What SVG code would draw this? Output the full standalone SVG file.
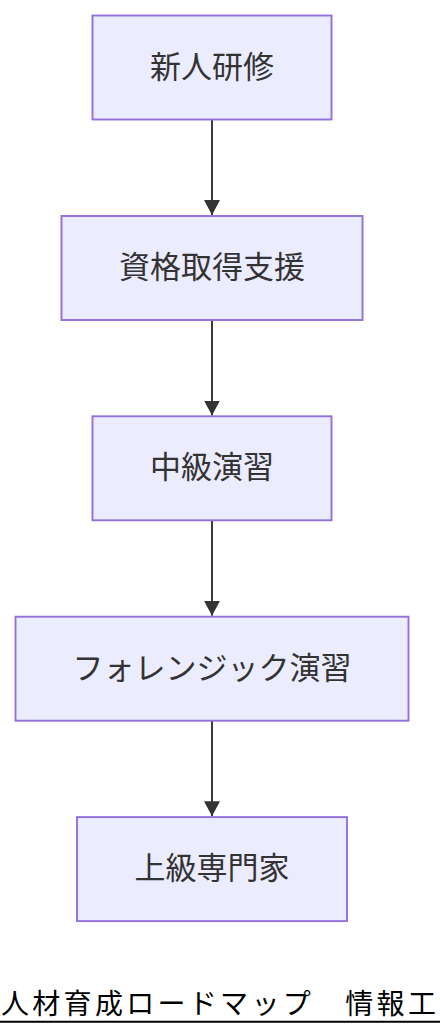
<svg xmlns="http://www.w3.org/2000/svg" width="440" height="1036" viewBox="0 0 440 1036">
<style>
.node rect{fill:#ECECFF;stroke:#9370DB;stroke-width:1.9}
.node text{font-family:"Noto Sans CJK JP","Noto Sans",sans-serif;font-size:31px;fill:#333;text-anchor:middle;dominant-baseline:central}
.edge{stroke:#333;stroke-width:1.9;fill:none}
.footer{font-family:"Noto Sans CJK JP",sans-serif;font-size:28px;letter-spacing:3.3px;fill:#000}
</style>
<defs>
<marker id="arrow" markerUnits="userSpaceOnUse" markerWidth="16" markerHeight="16" refX="15" refY="8" orient="auto">
<path d="M0,0 L15,8 L0,16 Z" fill="#333"/>
</marker>
</defs>
<rect width="440" height="1036" fill="#fff"/>
<g id="edges">
<path class="edge" d="M212,119.5 L212,215" marker-end="url(#arrow)"/>
<path class="edge" d="M212,320 L212,415.5" marker-end="url(#arrow)"/>
<path class="edge" d="M212,520.3 L212,615.8" marker-end="url(#arrow)"/>
<path class="edge" d="M212,720.7 L212,816.2" marker-end="url(#arrow)"/>
</g>
<g id="n1" class="node"><rect x="92.5" y="15.5" width="239" height="104"/><text x="212" y="64">新人研修</text></g>
<g id="n2" class="node"><rect x="61.5" y="216" width="301" height="104"/><text x="212" y="264.5">資格取得支援</text></g>
<g id="n3" class="node"><rect x="92.5" y="416.3" width="239" height="104"/><text x="212" y="464.8">中級演習</text></g>
<g id="n4" class="node"><rect x="15.5" y="616.7" width="393" height="104"/><text x="212" y="665.2">フォレンジック演習</text></g>
<g id="n5" class="node"><rect x="77" y="817.1" width="270" height="104"/><text x="212" y="865.6">上級専門家</text></g>
<g id="footer">
<text class="footer" x="1" y="1013.5">人材育成ロードマップ　情報工</text>
<line x1="0" y1="1021.7" x2="440" y2="1021.7" stroke="#000" stroke-width="2"/>
</g>
</svg>
